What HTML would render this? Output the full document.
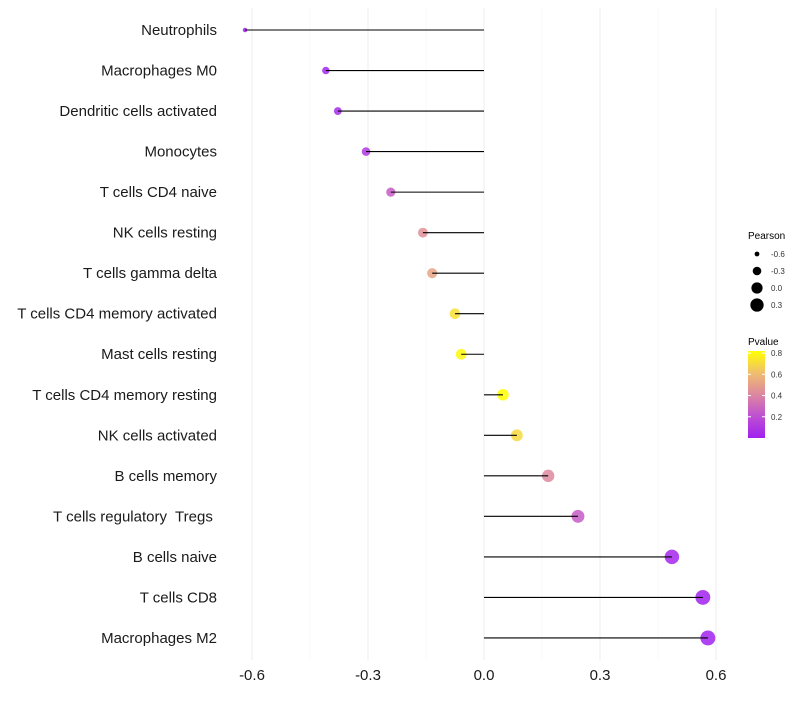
<!DOCTYPE html>
<html><head><meta charset="utf-8"><style>
body{margin:0;background:#fff;}
svg{font-family:"Liberation Sans",sans-serif;}
text{white-space:pre;}
</style></head><body>
<svg id="chart" width="800" height="700"></svg>
<script>
const categories=["Neutrophils","Macrophages M0","Dendritic cells activated","Monocytes","T cells CD4 naive","NK cells resting","T cells gamma delta","T cells CD4 memory activated","Mast cells resting","T cells CD4 memory resting","NK cells activated","B cells memory","T cells regulatory  Tregs ","B cells naive","T cells CD8","Macrophages M2"];
const pearson=[-0.618,-0.409,-0.378,-0.305,-0.241,-0.158,-0.134,-0.075,-0.059,0.049,0.085,0.166,0.243,0.486,0.566,0.579];
const pvalues=[0.01,0.03,0.05,0.1,0.25,0.45,0.52,0.72,0.8,0.84,0.7,0.42,0.25,0.03,0.01,0.005];
const xTicks=[-0.6,-0.3,0.0,0.3,0.6];
const xTickLabels=["-0.6","-0.3","0.0","0.3","0.6"];
const minorTicks=[-0.45,-0.15,0.15,0.45];
const sizeLegend=[-0.6,-0.3,0.0,0.3];
const sizeLegendLabels=["-0.6","-0.3","0.0","0.3"];
const pLegend=[0.2,0.4,0.6,0.8];

const NS="http://www.w3.org/2000/svg";
const svg=document.getElementById('chart');
const x=v=>484+(v)*386.67;
const y=i=>30+i*40.53;
const pMax=0.82;
const stops=[[0,[160,32,240]],[0.25,[190,80,210]],[0.5,[220,135,160]],[0.75,[240,190,110]],[1,[255,255,0]]];
function rgb(t){t=Math.max(0,Math.min(1,t));
 for(let k=1;k<stops.length;k++){if(t<=stops[k][0]){const a=stops[k-1],b=stops[k];const u=(t-a[0])/(b[0]-a[0]);
  return 'rgb('+a[1].map((c,j)=>Math.round(c+(b[1][j]-c)*u)).join(',')+')';}}}
function col(p){return rgb(p/pMax);}
const sMin=-0.618,sMax=0.579;
function rad(v){const t=Math.max(0,(v-sMin)/(sMax-sMin));return Math.sqrt(5+t*(56-5));}
function el(tag,attrs,parent){const e=document.createElementNS(NS,tag);for(const k in attrs)e.setAttribute(k,attrs[k]);(parent||svg).appendChild(e);return e;}

minorTicks.forEach(v=>{const l=el('line',{x1:x(v),x2:x(v),y1:8,y2:660,stroke:'#f5f5f5','stroke-width':0.6});

});
xTicks.forEach((v,i)=>{const l=el('line',{x1:x(v),x2:x(v),y1:8,y2:660,stroke:'#efefef','stroke-width':1.1});


const t=el('text',{x:x(v),y:680,'text-anchor':'middle','font-size':15,fill:'#1a1a1a'});t.textContent=xTickLabels[i];

});

categories.forEach((c,i)=>{
 const t=el('text',{x:217,y:y(i)+5,'text-anchor':'end','font-size':15,fill:'#1a1a1a'});t.textContent=c;
 
 
 const p=el('circle',{cx:x(pearson[i]),cy:y(i),r:rad(pearson[i]),fill:col(pvalues[i]),'fill-opacity':0.85});
 
 
 const l=el('line',{x1:x(pearson[i]),x2:x(0),y1:y(i),y2:y(i),stroke:'#000','stroke-width':1.1});
 
 
});

const lt=el('text',{x:748,y:239,'font-size':10,fill:'#000'});lt.textContent='Pearson';


sizeLegend.forEach((v,i)=>{const cy=254+i*17;
 const c=el('circle',{cx:757,cy:cy,r:rad(v),fill:'#000'});
 
 
 const t=el('text',{x:771,y:cy+3,'font-size':8,fill:'#333'});t.textContent=sizeLegendLabels[i];
 
 });

const pt=el('text',{x:748,y:345,'font-size':10,fill:'#000'});pt.textContent='Pvalue';


const defs=el('defs',{});const g=el('linearGradient',{id:'pg',x1:0,y1:1,x2:0,y2:0},defs);
stops.forEach(s=>el('stop',{offset:s[0],'stop-color':rgb(s[0])},g));
const barTop=351,barBot=438;
const bar=el('rect',{x:748,y:barTop,width:17,height:barBot-barTop,fill:'url(#pg)'});


pLegend.forEach(v=>{const yy=barBot-(v/pMax)*(barBot-barTop);
 el('line',{x1:748,x2:751,y1:yy,y2:yy,stroke:'#fff'});el('line',{x1:762,x2:765,y1:yy,y2:yy,stroke:'#fff'});
 const t=el('text',{x:771,y:yy+3,'font-size':8,fill:'#333'});t.textContent=v.toFixed(1);
 
 });
</script>
</body></html>
